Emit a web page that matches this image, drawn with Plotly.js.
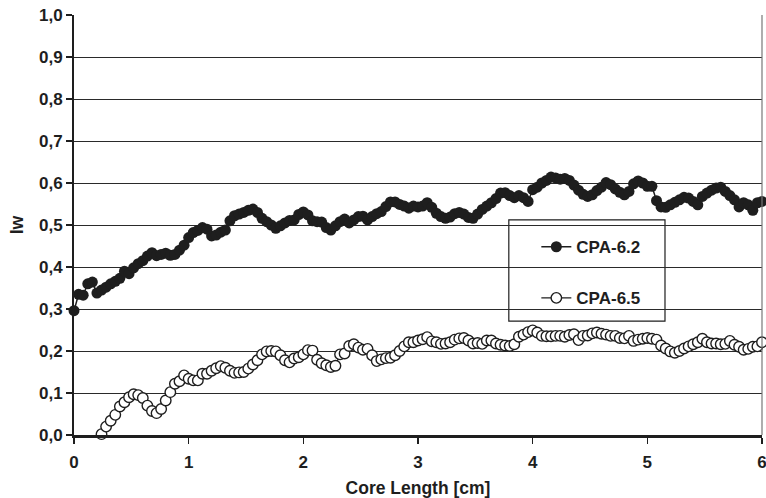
<!DOCTYPE html>
<html>
<head>
<meta charset="utf-8">
<script src="https://cdn.plot.ly/plotly-3.0.1.min.js"></script>
<style>
  html, body { margin: 0; padding: 0; background: #fff; }
  #chart { width: 766px; height: 498px; }
</style>
</head>
<body>
<div id="chart"></div>
<script>
// Core length positions (cm)
const coreLength = [
  0.00, 0.04, 0.08, 0.12, 0.16, 0.20, 0.24, 0.28, 0.32, 0.36, 0.40, 0.44, 0.48, 0.52, 0.56, 0.60,
  0.64, 0.68, 0.72, 0.76, 0.80, 0.84, 0.88, 0.92, 0.96, 1.00, 1.04, 1.08, 1.12, 1.16, 1.20, 1.24,
  1.28, 1.32, 1.36, 1.40, 1.44, 1.48, 1.52, 1.56, 1.60, 1.64, 1.68, 1.72, 1.76, 1.80, 1.84, 1.88,
  1.92, 1.96, 2.00, 2.04, 2.08, 2.12, 2.16, 2.20, 2.24, 2.28, 2.32, 2.36, 2.40, 2.44, 2.48, 2.52,
  2.56, 2.60, 2.64, 2.68, 2.72, 2.76, 2.80, 2.84, 2.88, 2.92, 2.96, 3.00, 3.04, 3.08, 3.12, 3.16,
  3.20, 3.24, 3.28, 3.32, 3.36, 3.40, 3.44, 3.48, 3.52, 3.56, 3.60, 3.64, 3.68, 3.72, 3.76, 3.80,
  3.84, 3.88, 3.92, 3.96, 4.00, 4.04, 4.08, 4.12, 4.16, 4.20, 4.24, 4.28, 4.32, 4.36, 4.40, 4.44,
  4.48, 4.52, 4.56, 4.60, 4.64, 4.68, 4.72, 4.76, 4.80, 4.84, 4.88, 4.92, 4.96, 5.00, 5.04, 5.08,
  5.12, 5.16, 5.20, 5.24, 5.28, 5.32, 5.36, 5.40, 5.44, 5.48, 5.52, 5.56, 5.60, 5.64, 5.68, 5.72,
  5.76, 5.80, 5.84, 5.88, 5.92, 5.96, 6.00
];

// Iw profile, CPA-6.2
const iwCpa62 = [
  0.296, 0.335, 0.333, 0.360, 0.364, 0.338, 0.345, 0.352, 0.360, 0.366, 0.373, 0.390, 0.384, 0.398, 0.408, 0.415,
  0.426, 0.434, 0.427, 0.430, 0.433, 0.428, 0.430, 0.440, 0.452, 0.470, 0.482, 0.487, 0.494, 0.490, 0.474, 0.476,
  0.483, 0.488, 0.510, 0.522, 0.526, 0.530, 0.535, 0.538, 0.530, 0.516, 0.508, 0.500, 0.492, 0.498, 0.505, 0.511,
  0.512, 0.525, 0.531, 0.524, 0.510, 0.508, 0.507, 0.494, 0.488, 0.498, 0.508, 0.514, 0.505, 0.512, 0.520, 0.521,
  0.512, 0.520, 0.527, 0.532, 0.544, 0.555, 0.555, 0.549, 0.545, 0.540, 0.545, 0.543, 0.545, 0.553, 0.542, 0.528,
  0.520, 0.516, 0.519, 0.527, 0.530, 0.526, 0.518, 0.516, 0.526, 0.537, 0.545, 0.553, 0.563, 0.576, 0.577, 0.570,
  0.565, 0.570, 0.565, 0.556, 0.584, 0.590, 0.600, 0.606, 0.614, 0.612, 0.609, 0.611, 0.606, 0.595, 0.583, 0.573,
  0.568, 0.572, 0.582, 0.590, 0.601, 0.596, 0.586, 0.578, 0.572, 0.580, 0.598, 0.605, 0.600, 0.592, 0.592, 0.558,
  0.543, 0.542, 0.548, 0.554, 0.560, 0.566, 0.564, 0.556, 0.548, 0.568, 0.576, 0.583, 0.588, 0.590, 0.580, 0.570,
  0.560, 0.543, 0.553, 0.548, 0.535, 0.553, 0.556
];

// Iw profile, CPA-6.5 (no values recorded in the first 0.2 cm)
const iwCpa65 = [
  null, null, null, null, null, null, 0.002, 0.020, 0.034, 0.048, 0.068, 0.078, 0.090, 0.097, 0.095, 0.088,
  0.070, 0.057, 0.052, 0.062, 0.082, 0.102, 0.122, 0.128, 0.142, 0.134, 0.130, 0.130, 0.146, 0.146, 0.153, 0.159,
  0.164, 0.160, 0.153, 0.148, 0.149, 0.150, 0.158, 0.168, 0.178, 0.192, 0.199, 0.200, 0.199, 0.190, 0.178, 0.173,
  0.182, 0.185, 0.192, 0.202, 0.201, 0.179, 0.171, 0.166, 0.162, 0.165, 0.192, 0.194, 0.212, 0.216, 0.208, 0.203,
  0.205, 0.190, 0.176, 0.180, 0.183, 0.184, 0.190, 0.200, 0.211, 0.221, 0.221, 0.225, 0.228, 0.233, 0.223, 0.221,
  0.217, 0.218, 0.221, 0.227, 0.230, 0.231, 0.225, 0.218, 0.219, 0.217, 0.225, 0.225, 0.218, 0.215, 0.213, 0.212,
  0.216, 0.234, 0.239, 0.245, 0.249, 0.244, 0.236, 0.235, 0.235, 0.236, 0.236, 0.234, 0.238, 0.240, 0.226, 0.236,
  0.237, 0.242, 0.244, 0.241, 0.239, 0.236, 0.236, 0.231, 0.230, 0.236, 0.224, 0.227, 0.229, 0.231, 0.229, 0.227,
  0.213, 0.206, 0.199, 0.196, 0.200, 0.206, 0.211, 0.216, 0.221, 0.229, 0.221, 0.218, 0.218, 0.216, 0.217, 0.224,
  0.215, 0.210, 0.203, 0.205, 0.210, 0.211, 0.221
];

const seriesNames = ['CPA-6.2', 'CPA-6.5'];
const xTicks = [0, 1, 2, 3, 4, 5, 6];
const yTicks = [0, 0.1, 0.2, 0.3, 0.4, 0.5, 0.6, 0.7, 0.8, 0.9, 1.0];
const xTitle = 'Core Length [cm]';
const yTitle = 'Iw';

const ink = '#1e1e1e';
const fontFamily = '"Liberation Sans", Arial, Helvetica, sans-serif';

const traces = [
  {
    x: coreLength, y: iwCpa62, name: seriesNames[0],
    type: 'scatter', mode: 'lines+markers',
    line: { color: ink, width: 1.5 },
    marker: { symbol: 'circle', size: 11, color: ink },
    cliponaxis: false, legendgroup: 'a'
  },
  {
    x: coreLength, y: iwCpa65, name: seriesNames[1],
    type: 'scatter', mode: 'lines+markers',
    line: { color: ink, width: 1.3 },
    marker: { symbol: 'circle', size: 10.5, color: '#ffffff', line: { color: ink, width: 1.4 } },
    cliponaxis: false, connectgaps: false, legendgroup: 'b'
  }
];

const layout = {
  width: 766, height: 498,
  margin: { l: 74, r: 4, t: 15, b: 63, pad: 0 },
  paper_bgcolor: '#ffffff', plot_bgcolor: '#ffffff',
  separators: ',.',
  font: { family: fontFamily, color: ink },
  showlegend: true,
  legend: {
    x: 0.672, y: 0.49, xanchor: 'left', yanchor: 'top',
    bgcolor: 'rgba(0,0,0,0)', borderwidth: 0,
    traceorder: 'grouped', tracegroupgap: 26,
    font: { family: fontFamily, size: 17, weight: 'bold', color: ink }
  },
  xaxis: {
    range: [0, 6], tickmode: 'array', tickvals: xTicks, ticktext: xTicks.map(String),
    ticks: 'outside', ticklen: 6, tickwidth: 1.5, tickcolor: ink,
    ticklabeloverflow: 'allow', ticklabelstandoff: 4,
    showline: true, linecolor: ink, linewidth: 2.5,
    showgrid: false, zeroline: false,
    tickfont: { family: fontFamily, size: 17, weight: 'bold', color: ink },
    title: { text: xTitle, standoff: 11, font: { family: fontFamily, size: 17.5, weight: 'bold', color: ink } }
  },
  yaxis: {
    range: [0, 1], tickmode: 'array', tickvals: yTicks, tickformat: '.1f',
    ticks: 'outside', ticklen: 6, tickwidth: 1.5, tickcolor: ink,
    showline: true, linecolor: ink, linewidth: 2,
    showgrid: true, gridcolor: '#2a2a2a', gridwidth: 1,
    zeroline: false,
    tickfont: { family: fontFamily, size: 17, weight: 'bold', color: ink },
    title: { text: yTitle, standoff: 11, font: { family: fontFamily, size: 17.5, weight: 'bold', color: ink } }
  },
  shapes: [
    // right edge of the plot area
    { type: 'line', xref: 'paper', yref: 'paper', x0: 1, x1: 1, y0: 0, y1: 1,
      line: { color: '#777', width: 1.2 }, layer: 'above' },
    // legend frame
    { type: 'rect', xref: 'paper', yref: 'paper', x0: 0.632, x1: 0.859, y0: 0.271, y1: 0.512,
      fillcolor: '#ffffff', line: { color: ink, width: 1.2 }, layer: 'between' }
  ]
};

Plotly.newPlot('chart', traces, layout, { displayModeBar: false, staticPlot: true });
</script>
</body>
</html>
